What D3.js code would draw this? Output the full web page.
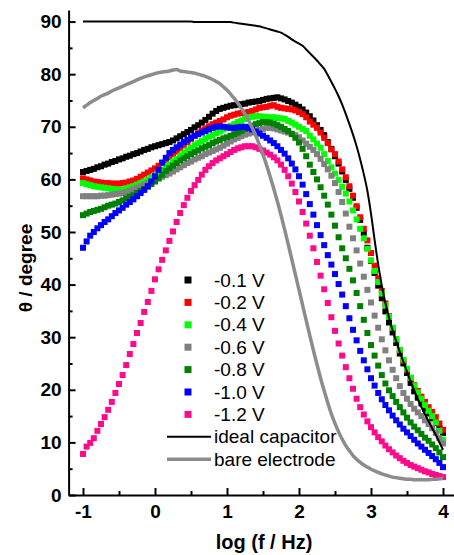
<html>
<head>
<style>
  body { margin: 0; background: #fff; }
  text { font-family: Arial, "Liberation Sans", sans-serif; }
</style>
</head>
<body>
<svg id="chart" width="454" height="555"></svg>
<script src="https://cdn.jsdelivr.net/npm/d3@7"></script>
<script>
// log (f / Hz) grid of the measured points
const logF = [
  -1.0,-0.95,-0.9,-0.85,-0.8,-0.75,-0.7,-0.65,-0.6,-0.55,
  -0.5,-0.45,-0.4,-0.35,-0.3,-0.25,-0.2,-0.15,-0.1,-0.05,
  0.0,0.05,0.1,0.15,0.2,0.25,0.3,0.35,0.4,0.45,
  0.5,0.55,0.6,0.65,0.7,0.75,0.8,0.85,0.9,0.95,
  1.0,1.05,1.1,1.15,1.2,1.25,1.3,1.35,1.4,1.45,
  1.5,1.55,1.6,1.65,1.7,1.75,1.8,1.85,1.9,1.95,
  2.0,2.05,2.1,2.15,2.2,2.25,2.3,2.35,2.4,2.45,
  2.5,2.55,2.6,2.65,2.7,2.75,2.8,2.85,2.9,2.95,
  3.0,3.05,3.1,3.15,3.2,3.25,3.3,3.35,3.4,3.45,
  3.5,3.55,3.6,3.65,3.7,3.75,3.8,3.85,3.9,3.95,
  4.0]

const v01 = [
  61.4,61.6,61.8,62.0,62.3,62.5,62.8,63.0,63.3,63.5,
  63.8,64.0,64.3,64.5,64.8,65.0,65.3,65.6,65.8,66.1,
  66.3,66.5,66.7,66.9,67.1,67.4,67.8,68.2,68.6,69.0,
  69.4,69.9,70.3,70.8,71.3,71.9,72.5,73.0,73.4,73.6,
  73.8,74.0,74.1,74.2,74.3,74.4,74.6,74.7,74.8,74.9,
  75.1,75.3,75.4,75.5,75.6,75.4,75.2,74.9,74.6,74.2,
  73.8,73.3,72.7,72.0,71.2,70.3,69.4,68.4,67.1,65.8,
  64.4,63.0,61.5,59.9,58.2,56.5,54.6,52.3,49.8,47.0,
  44.5,42.2,39.8,37.4,34.9,32.8,30.9,28.9,26.9,25.0,
  23.2,21.3,19.7,18.5,17.4,16.4,15.5,14.6,13.7,12.8,
  11.8]
const v02 = [
  60.2,60.0,59.8,59.6,59.5,59.4,59.3,59.3,59.2,59.2,
  59.2,59.3,59.4,59.6,59.8,60.1,60.5,60.9,61.3,61.7,
  62.1,62.6,63.1,63.6,64.2,64.8,65.3,65.9,66.5,67.1,
  67.7,68.3,68.8,69.3,69.7,70.1,70.5,70.8,71.1,71.4,
  71.8,72.1,72.3,72.5,72.6,72.7,72.8,73.0,73.3,73.6,
  73.7,73.8,74.0,74.1,73.8,73.6,73.5,73.4,73.3,73.1,
  72.8,72.4,71.8,71.0,70.4,69.8,68.9,67.9,66.9,65.7,
  64.8,63.4,61.9,60.4,58.7,56.9,54.9,52.8,50.6,48.4,
  46.0,43.6,41.2,38.8,36.4,34.0,31.7,29.6,27.5,25.5,
  23.7,22.2,20.9,19.8,18.7,17.7,16.7,15.8,14.8,13.6,
  12.4]
const v04 = [
  59.3,59.1,58.9,58.7,58.6,58.5,58.4,58.3,58.2,58.1,
  58.0,58.1,58.3,58.5,58.7,59.0,59.3,59.6,60.0,60.4,
  60.8,61.3,61.8,62.3,62.8,63.4,63.9,64.5,65.0,65.5,
  66.0,66.5,66.9,67.3,67.7,68.1,68.4,68.8,69.1,69.5,
  69.8,70.2,70.5,70.9,71.2,71.5,71.8,71.9,72.0,72.0,
  71.9,71.9,71.8,71.8,71.7,71.6,71.5,71.1,70.8,70.4,
  70.0,69.6,69.2,68.3,67.6,66.8,66.0,64.8,63.5,62.3,
  61.1,59.9,58.6,57.3,55.8,54.1,52.4,50.6,48.8,46.8,
  44.6,42.6,40.5,38.3,36.1,33.9,31.8,29.6,27.6,25.7,
  24.0,22.3,20.8,19.5,18.3,17.1,16.0,15.0,13.8,12.2,
  10.5]
const v06 = [
  56.8,56.8,56.8,56.8,56.8,56.9,56.9,57.0,57.1,57.2,
  57.3,57.4,57.6,57.8,58.1,58.4,58.7,59.0,59.3,59.6,
  59.9,60.2,60.5,60.8,61.1,61.5,61.9,62.3,62.7,63.1,
  63.4,63.8,64.1,64.4,64.8,65.1,65.4,65.7,66.0,66.4,
  66.8,67.2,67.6,67.9,68.2,68.5,68.7,68.9,69.2,69.4,
  69.6,69.8,69.8,69.7,69.5,69.3,69.1,68.9,68.7,68.4,
  68.0,67.4,66.8,66.2,65.6,64.8,63.9,62.9,61.9,60.7,
  59.3,57.6,55.7,53.5,51.0,48.8,46.5,44.0,41.5,39.0,
  36.6,34.1,31.8,29.6,27.5,25.6,23.8,22.2,20.7,19.4,
  18.3,17.3,16.4,15.7,15.0,14.2,13.5,12.7,11.8,10.8,
  9.8]
const v08 = [
  53.2,53.5,53.8,54.0,54.2,54.4,54.7,55.0,55.2,55.4,
  55.7,56.0,56.4,56.7,57.0,57.4,57.8,58.2,58.6,59.1,
  59.6,60.2,60.9,61.6,62.1,62.6,63.1,63.6,64.0,64.4,
  64.8,65.2,65.5,65.9,66.2,66.5,66.9,67.2,67.5,67.8,
  68.0,68.3,68.6,68.9,69.2,69.6,69.9,70.2,70.5,70.7,
  70.9,70.9,70.8,70.6,70.3,70.0,69.6,69.2,68.6,67.9,
  67.0,65.8,64.4,62.8,61.4,60.0,58.5,56.9,55.2,53.3,
  51.2,49.0,46.9,45.0,43.0,40.8,38.4,35.9,33.3,30.8,
  28.5,26.5,24.6,22.8,21.2,19.9,18.8,17.7,16.7,15.7,
  14.7,13.8,13.0,12.3,11.6,10.9,10.3,9.6,8.9,8.1,
  7.2]
const v10 = [
  47.0,48.2,49.3,50.0,50.7,51.3,51.9,52.4,53.0,53.6,
  54.1,54.6,55.2,55.7,56.2,56.8,57.4,58.0,58.7,59.6,
  60.6,61.8,63.2,64.1,65.0,65.6,66.1,66.6,67.1,67.5,
  67.9,68.3,68.6,68.9,69.2,69.5,69.8,70.0,70.1,70.0,
  69.9,69.8,69.8,69.9,70.0,70.0,69.8,69.5,69.1,68.7,
  68.3,67.9,67.4,66.9,66.3,65.6,64.9,64.0,63.0,61.9,
  60.6,59.0,57.2,55.3,53.3,51.3,49.4,47.5,45.6,43.8,
  42.0,40.1,38.1,35.9,33.6,31.4,29.4,27.4,25.6,23.9,
  22.2,20.8,19.4,18.2,17.1,16.1,15.1,14.2,13.4,12.6,
  11.9,11.2,10.5,9.8,9.2,8.6,8.0,7.4,6.8,6.1,
  5.3]
const v12 = [
  7.8,9.2,9.9,10.8,12.2,13.5,14.8,16.2,17.7,19.4,
  21.1,22.8,24.7,26.8,28.7,30.8,32.7,34.8,36.7,38.8,
  41.0,42.9,44.7,46.5,48.3,50.1,51.9,53.6,55.1,56.5,
  57.8,58.9,59.9,60.9,61.8,62.5,63.1,63.6,64.0,64.4,
  64.8,65.2,65.6,65.9,66.1,66.3,66.3,66.3,66.1,65.8,
  65.5,65.1,64.7,64.2,63.6,62.8,61.8,60.6,59.2,57.6,
  55.8,53.8,51.6,49.3,46.9,44.3,41.7,39.1,36.5,33.8,
  31.2,28.8,26.5,24.3,22.2,20.2,18.3,16.7,15.3,14.0,
  12.9,11.9,11.0,10.2,9.4,8.7,8.1,7.5,7.0,6.5,
  6.1,5.7,5.4,5.1,4.8,4.5,4.3,4.0,3.8,3.6,
  3.4]
const ideal = [
  90,90,90,90,90,90,90,90,90,90,
  90,90,90,90,90,90,90,90,90,90,
  90,90,90,90,90,90,90,90,90,90,
  90,89.9,89.9,89.9,89.9,89.9,89.9,89.9,89.9,89.9,
  89.9,89.9,89.8,89.7,89.6,89.5,89.4,89.3,89.2,89.1,
  88.9,88.7,88.5,88.3,88.1,87.9,87.5,87.1,86.6,86.2,
  85.8,85.4,84.7,84.0,83.3,82.6,81.8,81.0,79.8,78.5,
  77.2,75.8,74.2,72.4,70.5,68.5,66.3,63.8,61.0,57.8,
  53.5,48.5,43.8,39.8,36.5,33.7,31.3,29.2,27.2,25.3,
  23.4,21.6,19.9,18.2,16.7,15.3,14.0,12.7,11.4,10.0,
  8.6]
const bare = [
  73.6,74.1,74.6,75.0,75.4,75.8,76.1,76.4,76.8,77.1,
  77.4,77.7,78.0,78.3,78.6,78.9,79.2,79.5,79.7,79.9,
  80.1,80.3,80.4,80.5,80.6,80.8,80.9,80.6,80.5,80.4,
  80.3,80.2,80.0,79.8,79.6,79.3,79.0,78.6,78.2,77.6,
  77.0,76.2,75.4,74.5,73.5,72.4,71.2,69.8,68.3,66.6,
  64.7,62.7,60.5,58.2,55.8,53.2,50.5,47.7,44.8,41.9,
  39.0,36.1,33.2,30.3,27.5,24.8,22.2,19.8,17.5,15.4,
  13.6,12.0,10.6,9.4,8.4,7.5,6.8,6.2,5.7,5.3,
  4.9,4.6,4.3,4.0,3.8,3.6,3.4,3.3,3.2,3.1,
  3.0,3.0,2.9,2.9,2.9,2.9,2.9,3.0,3.0,3.1,
  3.2]

const seriesNames = ["-0.1 V","-0.2 V","-0.4 V","-0.6 V","-0.8 V","-1.0 V","-1.2 V"]
const seriesValues = [v01, v02, v04, v06, v08, v10, v12]
const seriesColors = ["#000000","#ff0000","#00ff00","#808080","#008000","#0000ff","#ff0a8c"]

const lineNames = ["ideal capacitor","bare electrode"]
const lineValues = [ideal, bare]
const lineColors = ["#000000","#8c8c8c"]
const lineWidths = [2, 3.5]

const xTicks = [-1,0,1,2,3,4]
const xTickLabels = ["-1","0","1","2","3","4"]
const xMinor = [-0.5,0.5,1.5,2.5,3.5]
const yTicks = [0,10,20,30,40,50,60,70,80,90]
const yMinor = [5,15,25,35,45,55,65,75,85]

let svg = d3.select("#chart")

let x = d3.scaleLinear().domain([-1.2, 4.15]).range([68.6, 453.8])
let y = d3.scaleLinear().domain([0, 92.2]).range([495, 10])

// squares for the bias potentials
seriesValues.forEach((vals, i) => {
  svg.append("g")
    .selectAll("rect").data(vals)
    .enter().append("rect")
    .attr("x", (d, j) => x(logF[j]) - 3)
    .attr("y", d => y(d) - 3)
    .attr("width", 6)
    .attr("height", 6)
    .attr("fill", seriesColors[i])
})

// reference lines
lineValues.forEach((vals, i) => {
  let line = d3.line()
    .x((d, j) => x(logF[j]))
    .y(d => y(d))
    .curve(d3.curveMonotoneX)
  svg.append("path")
    .attr("d", line(vals))
    .attr("fill", "none")
    .attr("stroke", lineColors[i])
    .attr("stroke-width", lineWidths[i])
})

// axes, ticks pointing inward
svg.append("g").attr("transform", "translate(0,495)")
  .call(d3.axisBottom(x).tickValues(xTicks).tickSizeInner(-7).tickSizeOuter(0)
    .tickPadding(10).tickFormat((d, i) => xTickLabels[i]))
svg.append("g").attr("transform", "translate(0,495)")
  .call(d3.axisBottom(x).tickValues(xMinor).tickSizeInner(-4).tickSizeOuter(0).tickFormat(""))
  .select(".domain").remove()

svg.append("g").attr("transform", "translate(68.6,0)")
  .call(d3.axisLeft(y).tickValues(yTicks).tickSizeInner(-7).tickSizeOuter(0).tickPadding(7))
svg.append("g").attr("transform", "translate(68.6,0)")
  .call(d3.axisLeft(y).tickValues(yMinor).tickSizeInner(-4).tickSizeOuter(0).tickFormat(""))
  .select(".domain").remove()

svg.selectAll(".domain").attr("stroke-width", 2)
svg.selectAll(".tick line").attr("stroke-width", 2)
svg.selectAll(".tick text")
  .attr("font-size", 19)
  .attr("font-weight", "bold")
  .attr("font-family", "Arial, 'Liberation Sans', sans-serif")
  .attr("fill", "#000")

svg.append("text")
  .attr("x", 264).attr("y", 549)
  .attr("text-anchor", "middle")
  .attr("font-size", 20).attr("font-weight", "bold")
  .text("log (f / Hz)")

svg.append("text")
  .attr("transform", "translate(32,268) rotate(-90)")
  .attr("text-anchor", "middle")
  .attr("font-size", 19).attr("font-weight", "bold")
  .text("θ / degree")

// legend
let legend = svg.append("g")
seriesNames.forEach((name, i) => {
  let ly = 280 + i * 22.4
  legend.append("rect")
    .attr("x", 184.5).attr("y", ly - 3.5)
    .attr("width", 7).attr("height", 7)
    .attr("fill", seriesColors[i])
  legend.append("text")
    .attr("x", 214).attr("y", ly).attr("dy", "0.35em")
    .attr("font-size", 19)
    .text(name)
})
lineNames.forEach((name, i) => {
  let ly = 280 + (i + 7) * 22.4
  legend.append("line")
    .attr("x1", 167).attr("x2", 211)
    .attr("y1", ly).attr("y2", ly)
    .attr("stroke", lineColors[i])
    .attr("stroke-width", lineWidths[i])
  legend.append("text")
    .attr("x", 214).attr("y", ly).attr("dy", "0.35em")
    .attr("font-size", 19)
    .text(name)
})
</script>
</body>
</html>
